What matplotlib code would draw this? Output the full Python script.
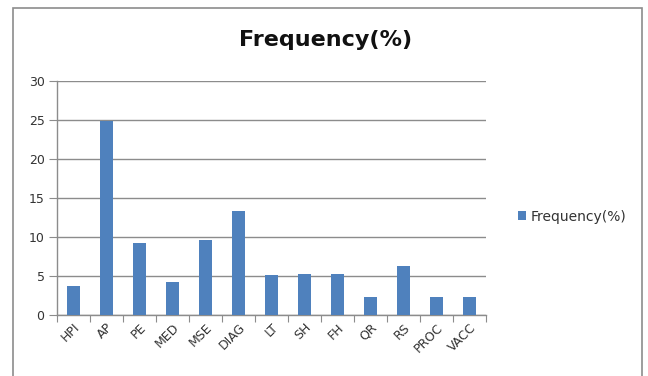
import matplotlib.pyplot as plt
import numpy as np
from matplotlib.patches import Rectangle

categories = ["HPI", "AP", "PE", "MED", "MSE", "DIAG", "LT", "SH", "FH", "QR", "RS", "PROC", "VACC"]
freq = [3.7, 24.8, 9.3, 4.2, 9.6, 13.4, 5.1, 5.3, 5.3, 2.4, 6.3, 2.4, 2.4]
yticks = [0, 5, 10, 15, 20, 25, 30]

bar_color = "#4F81BD"
gray = "#8c8c8c"
txt = "#333333"

fig = plt.figure(figsize=(6.48, 3.76), dpi=100)
plt.rcParams['font.family'] = ['DejaVu Sans']

# outer chart frame (bottom runs off the image)
fig.patches.append(Rectangle((12.5 / 648, -0.05), (642 - 12.5) / 648, 1.05 - 8.5 / 376,
                             transform=fig.transFigure, fill=False, edgecolor="#8c8c8c", lw=1.2))

ax = fig.add_axes([57 / 648, 1 - 315.3 / 376, (486 - 57) / 648, (315.3 - 80.7) / 376])
x = np.arange(len(categories))
ax.bar(x, freq, width=0.4, color=bar_color, label="Frequency(%)", zorder=3)

ax.set_xlim(-0.5, len(categories) - 0.5)
ax.set_ylim(0, 30)
ax.set_yticks(yticks)
ax.tick_params(axis="y", length=6, color=gray, labelsize=9, labelcolor=txt, pad=3)
ax.grid(axis="y", color=gray, lw=1, zorder=0)

# category boundaries as tick marks
ax.set_xticks(np.arange(-0.5, len(categories), 1.0))
ax.set_xticklabels([])
ax.tick_params(axis="x", length=5, color=gray)
ax.set_xticks(x, minor=True)
ax.set_xticklabels(categories, minor=True, rotation=45, ha="right", va="top",
                   rotation_mode="anchor", fontsize=9, color=txt)
ax.tick_params(axis="x", which="minor", length=0, pad=4)

for s in ["top", "right"]:
    ax.spines[s].set_visible(False)
for s in ["left", "bottom"]:
    ax.spines[s].set_color(gray)
    ax.spines[s].set_linewidth(1)

fig.text(326 / 648, 1 - 40 / 376, "Frequency(%)", ha="center", va="center",
         fontsize=16, fontweight="bold", family="DejaVu Sans", color="#111111")

leg = ax.legend(loc="center left", bbox_to_anchor=(1.045, 0.42), frameon=False, fontsize=10,
                handlelength=0.6, handleheight=0.6, handletextpad=0.3)
for t in leg.get_texts():
    t.set_color(txt)

fig.savefig("out.png", dpi=100)
